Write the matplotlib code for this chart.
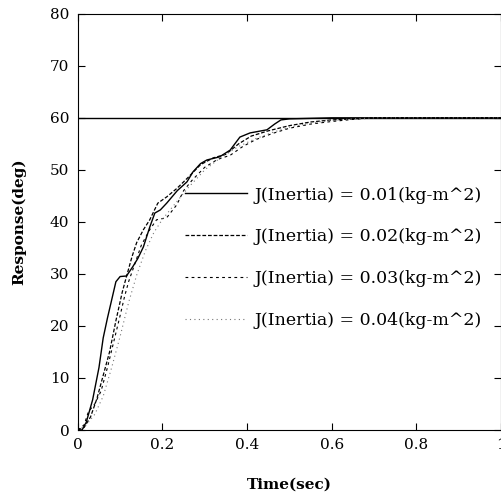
import matplotlib
matplotlib.use('Agg')
import matplotlib.pyplot as plt

plt.rcParams['font.family'] = ['DejaVu Serif']

# Reference input
ref_t = [0.0, 1.0]
ref_y = [60, 60]

# J = 0.01 (solid)
t1 = [0, 0.01, 0.02, 0.035, 0.05, 0.06, 0.07, 0.08, 0.09, 0.10, 0.115, 0.13, 0.142,
      0.155, 0.17, 0.182, 0.195, 0.21, 0.235, 0.258, 0.272, 0.29, 0.305, 0.335, 0.36,
      0.383, 0.407, 0.447, 0.465, 0.48, 0.5, 0.6, 0.8, 1.0]
y1 = [0, 0, 1.5, 5.8, 12, 17.7, 21.5, 25, 28.5, 29.5, 29.6, 31.4, 33,
      35.2, 39, 41.7, 42.3, 43.6, 46, 47.7, 49.6, 51.2, 51.9, 52.5, 53.8,
      56.3, 57.1, 57.7, 58.8, 59.6, 59.8, 60, 60, 60]

# J = 0.02
t2 = [0, 0.015, 0.03, 0.045, 0.06, 0.075, 0.09, 0.105, 0.115, 0.128, 0.139, 0.155,
      0.17, 0.189, 0.21, 0.235, 0.26, 0.29, 0.32, 0.35, 0.38, 0.41, 0.45, 0.5, 0.55,
      0.6, 0.7, 1.0]
y2 = [0, 0.5, 2.5, 6, 10.5, 15, 21, 26.5, 29.5, 33.3, 36, 38.5,
      40.4, 43.6, 44.8, 46.5, 48.5, 51, 52.3, 53, 55, 56.5, 57.5, 58.5, 59.2,
      59.6, 60, 60]

# J = 0.03
t3 = [0, 0.015, 0.025, 0.04, 0.055, 0.07, 0.085, 0.1, 0.11, 0.12, 0.135, 0.15, 0.17,
      0.186, 0.21, 0.234, 0.25, 0.27, 0.3, 0.33, 0.36, 0.39, 0.42, 0.46, 0.5, 0.55,
      0.6, 0.65, 0.7, 1.0]
y3 = [0, 1, 3.5, 5, 7.5, 12, 17, 22, 25.5, 28.5, 32, 35.5, 38.5,
      40.4, 40.8, 43.3, 46, 48, 50.5, 52, 52.8, 54.5, 55.8, 57, 58, 58.8,
      59.3, 59.7, 60, 60]

# J = 0.04
t4 = [0, 0.02, 0.04, 0.06, 0.08, 0.1, 0.12, 0.14, 0.16, 0.18, 0.2, 0.23, 0.26, 0.3,
      0.34, 0.38, 0.42, 0.46, 0.5, 0.55, 0.6, 0.65, 0.7, 1.0]
y4 = [0, 1, 3, 6.5, 12, 18, 24.5, 30, 34.5, 38, 40.5, 43.5, 46.5, 50,
      52.5, 54.5, 56, 57.2, 58.2, 59, 59.5, 59.8, 60, 60]

labels = ['J(Inertia) = 0.01(kg-m^2)', 'J(Inertia) = 0.02(kg-m^2)',
          'J(Inertia) = 0.03(kg-m^2)', 'J(Inertia) = 0.04(kg-m^2)']

fig = plt.figure(figsize=(5.02, 4.92), dpi=100)
ax = fig.add_axes([0.155, 0.126, 0.843, 0.846])

ax.plot(ref_t, ref_y, color='black', lw=1.0)
l1, = ax.plot(t1, y1, color='black', lw=1.0, ls='-')
l2, = ax.plot(t2, y2, color='black', lw=0.9, ls=(0, (3, 1.5)))
l3, = ax.plot(t3, y3, color='black', lw=0.8, ls=(0, (2.5, 3)))
l4, = ax.plot(t4, y4, color='#777777', lw=0.8, ls=(0, (1, 3)))

ax.set_xlim(0, 1)
ax.set_ylim(0, 80)
ax.set_xticks([0, 0.2, 0.4, 0.6, 0.8, 1])
ax.set_xticklabels(['0', '0.2', '0.4', '0.6', '0.8', '1'])
ax.set_yticks(range(0, 81, 10))
ax.tick_params(direction='in', top=True, right=True, length=5, width=0.8,
               labelsize=11, pad=6)

ax.set_xlabel('Time(sec)', fontsize=11, fontweight='bold', labelpad=18)
ax.set_ylabel('Response(deg)', fontsize=11, fontweight='bold', labelpad=17)

ax.legend([l1, l2, l3, l4], labels, loc='upper left', bbox_to_anchor=(0.253, 0.585),
          frameon=False, fontsize=12.5, handlelength=3.57, handletextpad=0.46,
          labelspacing=1.43, borderpad=0, borderaxespad=0)

fig.savefig('out.png', dpi=100)
